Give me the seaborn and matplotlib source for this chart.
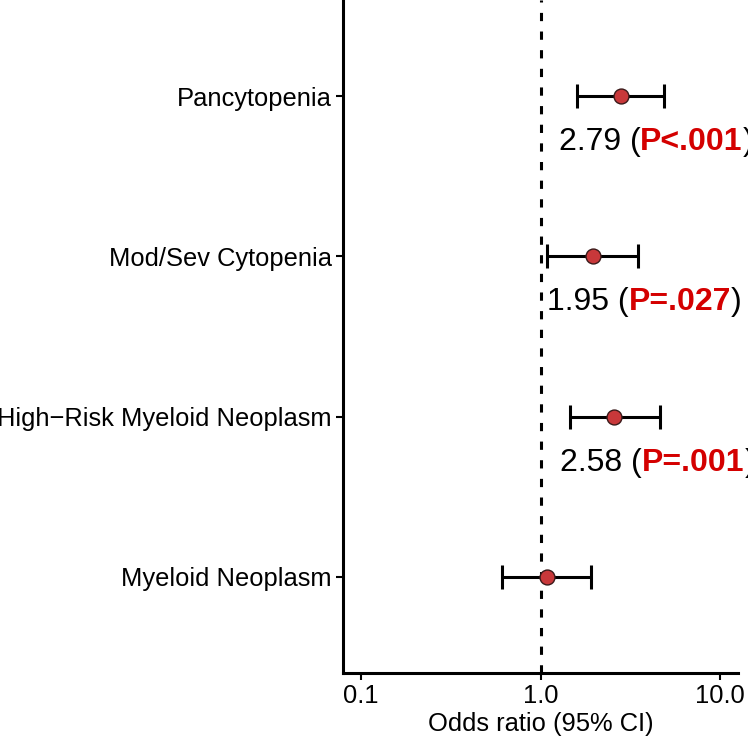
import numpy as np
import pandas as pd
import matplotlib
matplotlib.use("Agg")
import matplotlib.pyplot as plt
import seaborn as sns

# ---- data (bottom to top) ----
categories = ["Myeloid Neoplasm", "High\u2212Risk Myeloid Neoplasm", "Mod/Sev Cytopenia", "Pancytopenia"]
odds_ratio = [1.09, 2.58, 1.95, 2.79]
ci_low = [0.61, 1.46, 1.09, 1.60]
ci_high = [1.92, 4.62, 3.48, 4.86]
or_labels = ["", "2.58", "1.95", "2.79"]
p_labels = ["", "P=.001", "P=.027", "P<.001"]
label_x = [None, 1.29, 1.09, 1.26]   # OR value where each annotation starts
x_ticks = [0.1, 1.0, 10.0]
x_tick_labels = ["0.1", "1.0", "10.0"]

df = pd.DataFrame({"category": categories, "OR": odds_ratio,
                   "lo": ci_low, "hi": ci_high})
df["pos"] = np.arange(len(df))

sns.set_theme(style="white")
plt.rcParams["font.family"] = ["Liberation Sans", "DejaVu Sans"]

fig = plt.figure(figsize=(7.48, 7.38), dpi=100)
ax = fig.add_axes([343 / 748, (738 - 673) / 738, (738 - 343) / 748, 673 / 738])

ax.set_xscale("log")
ax.set_xlim(10 ** -1.1, 10 ** 1.1)
ax.set_ylim(-0.6, len(df) - 1 + 0.6)

ax.axvline(1.0, color="black", lw=2.2, linestyle=(0, (2.7, 3.4)), zorder=1)

ax.errorbar(df["OR"], df["pos"], xerr=[df["OR"] - df["lo"], df["hi"] - df["OR"]],
            fmt="none", ecolor="black", elinewidth=2.2, capsize=8.5, capthick=2.2, zorder=2)
sns.scatterplot(data=df, x="OR", y="pos", ax=ax, s=115, color="#C8383A",
                edgecolor="#3a1a1a", linewidth=1.0, zorder=3, legend=False)

ax.set_yticks(df["pos"])
ax.set_yticklabels(df["category"])
ax.set_xticks(x_ticks)
ax.set_xticklabels(x_tick_labels)
ax.minorticks_off()
ax.tick_params(axis="both", which="major", labelsize=18.4, length=5, width=1.5,
               color="black", labelcolor="black", bottom=True, left=True, pad=3)
ax.set_xlabel("Odds ratio (95% CI)", fontsize=18.4, color="black", labelpad=3)
ax.set_ylabel("")

for s in ["top", "right"]:
    ax.spines[s].set_visible(False)
for s in ["left", "bottom"]:
    ax.spines[s].set_color("black")
    ax.spines[s].set_linewidth(2.2)

# annotations: "OR (P...)" below each point, two colours
fig.canvas.draw()
renderer = fig.canvas.get_renderer()
fs = 23
for i, row in df.iterrows():
    if not or_labels[i]:
        continue
    parts = [(or_labels[i] + " (", "black", "normal"),
             (p_labels[i], "#D40000", "bold"),
             (")", "black", "normal")]
    widths = []
    for txt, col, wt in parts:
        t = fig.text(0, 0, txt, fontsize=fs, fontweight=wt)
        widths.append(t.get_window_extent(renderer).width)
        t.remove()
    x0, yd = ax.transData.transform((label_x[i], row["pos"]))
    y0 = yd - 46
    for (txt, col, wt), w in zip(parts, widths):
        fig.text(x0 / fig.bbox.width, y0 / fig.bbox.height, txt, fontsize=fs,
                 fontweight=wt, color=col, ha="left", va="center")
        x0 += w

fig.savefig("out.png", dpi=100)
